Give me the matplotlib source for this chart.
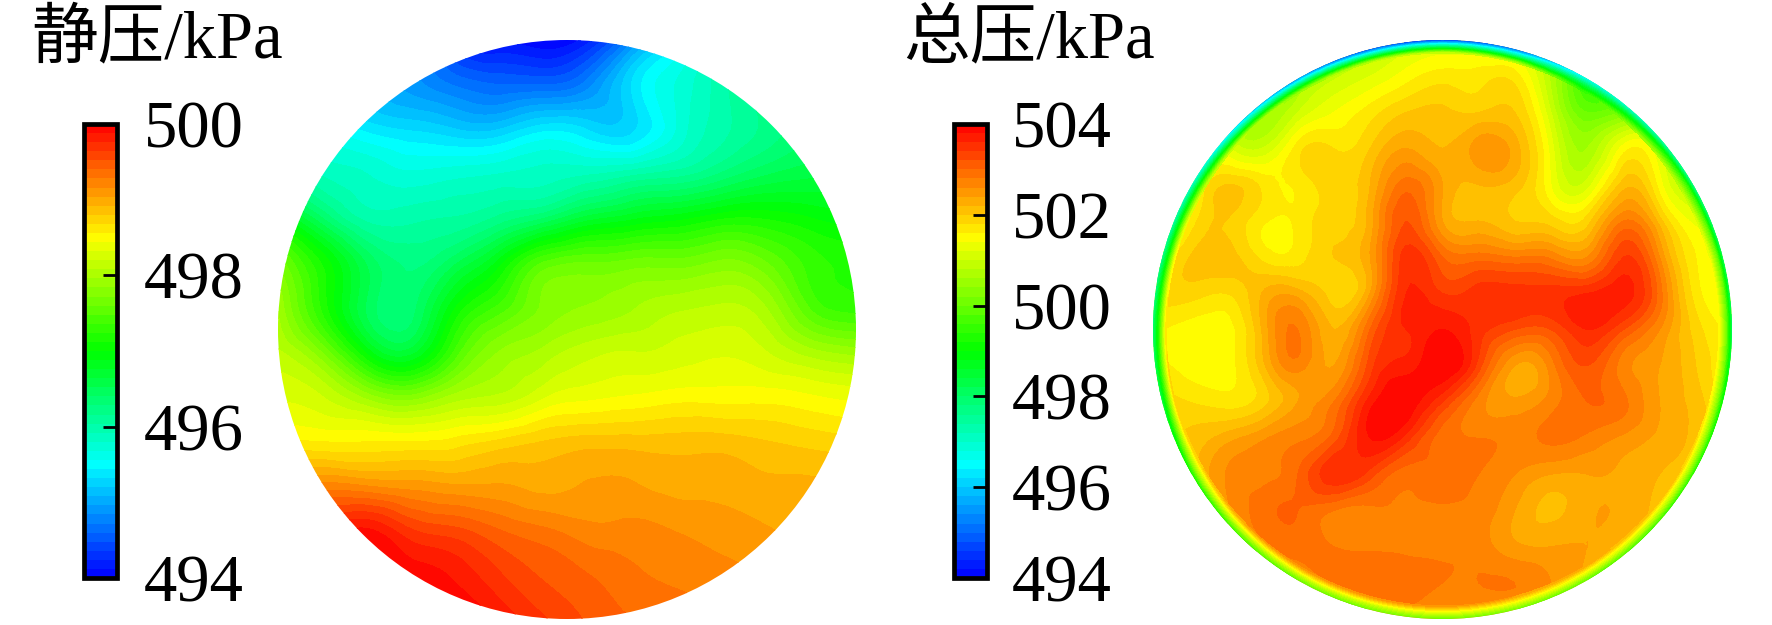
import numpy as np
import matplotlib
matplotlib.use('Agg')
import matplotlib.pyplot as plt
import matplotlib.tri as mtri
from matplotlib.colors import LinearSegmentedColormap
from matplotlib.patches import Circle

n = np.nan

static_p = [
    [n, n, n, 495.0, 494.2, 494.1, 494.0, 494.2, 494.8, 495.4, 495.9, n, n, n],
    [n, 495.8, 495.2, 494.9, 494.7, 494.6, 494.6, 494.8, 495.35, 495.7, 496.0, 496.3, n, n],
    [496.0, 495.7, 495.4, 495.3, 495.2, 495.2, 495.4, 495.3, 495.3, 495.7, 496.0, 496.2, 496.4, n],
    [496.1, 495.9, 495.8, 495.7, 495.75, 495.8, 495.85, 495.9, 496.0, 496.1, 496.3, 496.5, 496.6, 496.7],
    [497.0, 496.4, 496.0, 496.0, 496.05, 496.2, 496.4, 496.7, 496.85, 496.95, 497.1, 497.1, 497.0, 496.9],
    [497.7, 497.1, 496.5, 496.25, 496.5, 496.95, 497.5, 497.6, 497.65, 497.65, 497.75, 497.6, 497.3, 497.2],
    [497.95, 497.2, 496.5, 496.35, 497.0, 497.4, 497.75, 497.85, 497.95, 498.05, 498.1, 497.95, 497.45, 497.3],
    [498.1, 497.7, 496.95, 496.7, 497.4, 497.85, 498.0, 498.15, 498.2, 498.25, 498.3, 498.2, 498.0, 497.9],
    [498.3, 498.2, 497.9, 497.75, 498.0, 498.1, 498.3, 498.4, 498.45, 498.5, 498.5, 498.5, 498.45, 498.4],
    [498.6, 498.55, 498.55, 498.55, 498.6, 498.7, 498.8, 498.85, 498.85, 498.85, 498.85, 498.8, 498.75, 498.7],
    [n, 499.2, 499.15, 499.1, 499.05, 499.05, 499.0, 499.05, 499.05, 499.0, 499.0, 498.95, 498.95, n],
    [n, 499.7, 499.9, 499.65, 499.55, 499.4, 499.3, 499.2, 499.2, 499.15, 499.1, 499.05, 499.0, n],
    [n, n, 500.0, 499.95, 499.85, 499.65, 499.5, 499.4, 499.3, 499.25, 499.2, 499.15, n, n],
    [n, n, n, 500.0, 500.0, 499.85, 499.65, 499.5, 499.4, 499.35, 499.3, n, n, n],
]

# total pressure inside the right disc, top row first, kPa
total_p = [
    [n, n, n, n, n, n, n, n, n, n, n, n, n, n, n, n, n],
    [n, n, n, n, n, n, 501.2, 501.5, 501.7, 501.7, 501.7, n, n, n, n, n, n],
    [n, n, n, n, 501.0, 501.4, 501.7, 502.0, 502.05, 502.0, 502.0, 501.0, 500.0, n, n, n, n],
    [n, n, n, 501.0, 501.7, 501.8, 502.0, 502.4, 502.2, 502.5, 502.3, 501.3, 500.6, 501.5, n, n, n],
    [n, n, 502.0, 501.75, 501.65, 501.9, 502.2, 502.9, 502.4, 502.2, 502.1, 501.4, 501.1, 502.1, 501.5, n, n],
    [n, 502.0, 502.0, 501.65, 501.65, 501.9, 502.3, 503.2, 502.4, 502.2, 502.0, 501.9, 501.9, 502.8, 502.1, n, n],
    [n, 502.0, 502.1, 501.75, 501.7, 502.0, 502.4, 503.5, 503.0, 502.9, 502.8, 502.75, 502.6, 503.4, 502.6, 501.6, n],
    [n, 501.9, 501.8, 502.2, 502.3, 501.9, 502.4, 503.6, 503.4, 503.5, 503.5, 503.5, 503.6, 503.7, 502.9, 501.7, n],
    [n, 501.5, 501.5, 502.2, 502.8, 502.2, 503.0, 503.6, 503.8, 503.5, 503.2, 503.2, 503.6, 503.2, 502.6, 501.9, n],
    [n, 501.5, 501.5, 502.1, 502.7, 502.4, 503.3, 503.7, 504.0, 503.3, 502.4, 502.7, 503.2, 502.7, 502.4, 502.0, n],
    [n, 501.8, 501.7, 501.9, 502.4, 502.8, 503.7, 503.95, 503.4, 502.7, 502.45, 502.7, 503.0, 502.85, 502.4, 502.1, n],
    [n, n, 502.3, 502.55, 502.75, 503.1, 503.8, 503.5, 502.9, 502.8, 502.75, 502.85, 502.75, 502.55, 502.35, n, n],
    [n, n, 502.6, 502.75, 503.0, 503.55, 503.3, 502.9, 502.95, 502.8, 502.6, 502.4, 502.4, 502.35, 502.2, n, n],
    [n, n, n, 502.9, 503.0, 502.8, 502.75, 502.75, 502.75, 502.7, 502.4, 502.15, 502.35, 502.35, n, n, n],
    [n, n, n, n, 502.9, 502.8, 502.75, 502.75, 502.75, 502.7, 502.45, 502.4, 502.4, n, n, n, n],
    [n, n, n, n, n, n, 503.0, 502.9, 502.8, 502.8, 502.8, n, n, n, n, n, n],
    [n, n, n, n, n, n, n, n, n, n, n, n, n, n, n, n, n],
]

# total pressure round the wall, every 15 degrees counter-clockwise from east
rim_angles = np.arange(0, 360, 15)
rim_edge = [498.0, 498.0, 497.5, 497.0, 496.5, 495.0, 494.5, 494.7, 495.3, 496.0, 496.8, 497.5,
            497.8, 498.2, 499.0, 499.5, 499.8, 500.0, 500.0, 500.0, 499.8, 499.5, 499.2, 498.8]
rim_mid = [500.0, 500.0, 499.5, 498.8, 498.0, 497.5, 497.5, 497.5, 497.8, 498.0, 498.6, 499.0,
           499.3, 499.8, 500.5, 500.8, 501.0, 501.0, 501.1, 501.1, 501.0, 500.8, 500.6, 500.3]
rim_inner = [501.5, 501.4, 500.8, 500.5, 499.5, 500.8, 501.0, 500.8, 500.5, 500.8, 501.0, 501.5,
             501.7, 502.0, 502.0, 502.4, 502.5, 502.6, 502.5, 502.4, 502.3, 502.1, 502.0, 501.6]

static_ticks = [494, 496, 498, 500]
total_ticks = [494, 496, 498, 500, 502, 504]

W, H = 1772, 625
jet = LinearSegmentedColormap.from_list('tec', ['#0000ff', '#00ffff', '#00ff00', '#ffff00', '#ff0000'])

plt.rcParams['font.family'] = ['Liberation Serif', 'Noto Sans CJK SC']


def px_axes(fig, left, top, right, bottom):
    return fig.add_axes([left / W, 1 - bottom / H, (right - left) / W, (bottom - top) / H])


def grid_points(values, r_max):
    values = np.array(values, dtype=float)
    rows, cols = values.shape
    x, y = np.meshgrid(np.linspace(-1, 1, cols), np.linspace(1, -1, rows))
    keep = ~np.isnan(values) & (np.hypot(x, y) < r_max)
    return x[keep], y[keep], values[keep]


def draw_disc(ax, x, y, z, vmin, vmax):
    tri = mtri.Triangulation(x, y)
    refiner = mtri.UniformTriRefiner(tri)
    fine_tri, fine_z = refiner.refine_field(z, subdiv=3)
    # stay just under the top level or the peak is left unfilled
    fine_z = np.clip(fine_z, vmin, vmax - 0.001)
    levels = np.linspace(vmin, vmax, 51)
    cs = ax.tricontourf(fine_tri, fine_z, levels=levels, cmap=jet, vmin=vmin, vmax=vmax)
    cs.set_clip_path(Circle((0, 0), 1, transform=ax.transData))
    ax.set_xlim(-1, 1)
    ax.set_ylim(-1, 1)
    ax.axis('off')
    return cs


def draw_rim(ax, rings, vmin, vmax):
    # thin layer at the wall goes on top of the disc, straight interpolation only
    angles = np.arange(0, 360, 3)
    theta = np.radians(angles)
    x, y, z = [], [], []
    for radius, ring in rings:
        x = np.append(x, radius * np.cos(theta))
        y = np.append(y, radius * np.sin(theta))
        z = np.append(z, np.interp(angles, rim_angles, ring, period=360))
    tri = mtri.Triangulation(x, y)
    mid_r = np.hypot(x[tri.triangles].mean(axis=1), y[tri.triangles].mean(axis=1))
    tri.set_mask(mid_r < rings[0][0])
    levels = np.linspace(vmin, vmax, 51)
    cs = ax.tricontourf(tri, z, levels=levels, cmap=jet, vmin=vmin, vmax=vmax)
    cs.set_clip_path(Circle((0, 0), 1, transform=ax.transData))


def draw_bar(fig, cs, box, ticks, pad):
    cax = px_axes(fig, *box)
    cb = fig.colorbar(cs, cax=cax, ticks=ticks)
    cb.outline.set_linewidth(3.4)
    cb.outline.set_edgecolor('black')
    cax.tick_params(direction='in', length=10, width=2, color='black', labelsize=48, pad=pad)
    for label in cax.get_yticklabels():
        label.set_ha('right')


fig = plt.figure(figsize=(W / 100, H / 100), dpi=100)

# left disc
ax1 = px_axes(fig, 278, 40, 856, 619)
x1, y1, z1 = grid_points(static_p, 2.0)
cs1 = draw_disc(ax1, x1, y1, z1, 494, 500)

# right disc, grid closed off by the values just inside the wall layer
ax2 = px_axes(fig, 1153, 40, 1732, 619)
x2, y2, z2 = grid_points(total_p, 0.95)
theta = np.radians(rim_angles)
x2 = np.append(x2, 1.03 * np.cos(theta))
y2 = np.append(y2, 1.03 * np.sin(theta))
z2 = np.append(z2, rim_inner)
cs2 = draw_disc(ax2, x2, y2, z2, 494, 504)
draw_rim(ax2, [(0.955, rim_inner), (0.98, rim_mid), (1.0, rim_edge), (1.04, rim_edge)], 494, 504)

draw_bar(fig, cs1, (84, 124, 117, 578), static_ticks, 91)
draw_bar(fig, cs2, (954, 124, 987, 578), total_ticks, 90)

fig.text(31 / W, 1 - 57 / H, '静压/kPa', fontsize=48, ha='left', va='baseline')
fig.text(903 / W, 1 - 57 / H, '总压/kPa', fontsize=48, ha='left', va='baseline')

fig.savefig('out.png', dpi=100)
